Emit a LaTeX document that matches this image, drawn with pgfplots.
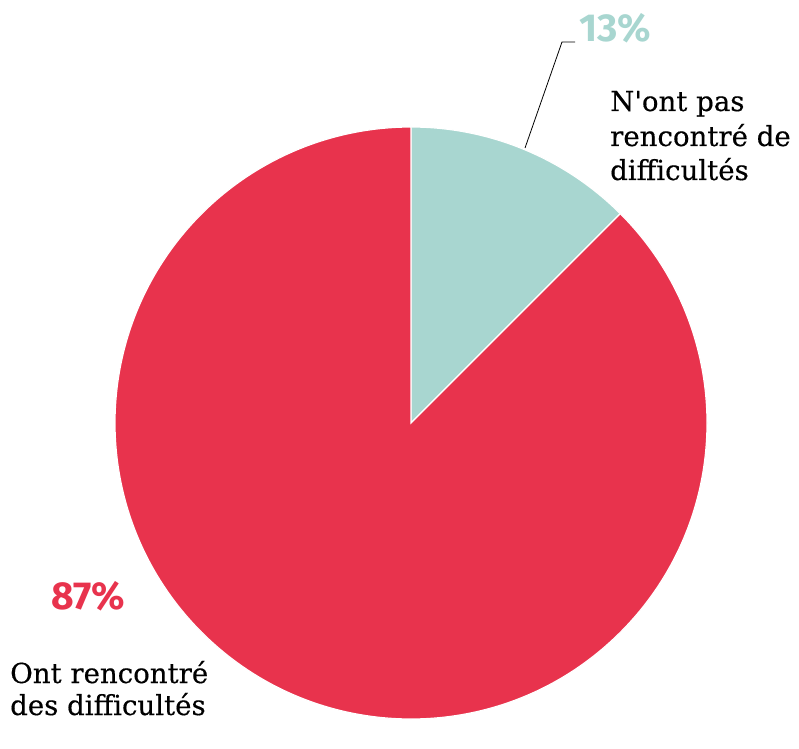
\documentclass[border=0pt]{standalone}
\usepackage{pgfplots}
\pgfplotsset{compat=1.18}
\usepackage{fontspec}
\setmainfont{DejaVu Serif}[FakeBold=0.4]
\newfontfamily\pctfont{Fira Sans}
\newfontfamily\lblfont{DejaVu Serif}[FakeBold=0.4]
\definecolor{pred}{HTML}{E8334D}
\definecolor{pteal}{HTML}{A8D6D0}
\begin{document}
\begin{tikzpicture}
\begin{axis}[
  x=1pt, y=1pt,
  xmin=0, xmax=799, ymin=0, ymax=719,
  hide axis, clip=false,
]
% data: share of respondents (%), as drawn
\def\valA{12.5}% N'ont pas rencontre de difficultes
\def\valB{87.5}% Ont rencontre des difficultes
\pgfmathsetmacro{\angA}{90-\valA*3.6}
\pgfmathsetmacro{\angB}{\angA-\valB*3.6}
\path (axis cs:0,0) rectangle (axis cs:799,719);
\filldraw[fill=pteal, draw=white, line width=1.2pt]
  (axis cs:411,296) -- ++(90:296pt) arc[start angle=90, end angle=\angA, radius=296pt] -- cycle;
\filldraw[fill=pred, draw=white, line width=1.2pt]
  (axis cs:411,296) -- ++(\angA:296pt) arc[start angle=\angA, end angle=\angB, radius=296pt] -- cycle;
\draw[black, line width=0.8pt] (axis cs:525,571) -- (axis cs:562,677) -- (axis cs:575,677);
\node[anchor=base west, inner sep=0, text=pteal, font=\pctfont\bfseries\fontsize{39}{42}\selectfont] at (axis cs:579,677) {13\%};
\node[anchor=base west, inner sep=0, font=\lblfont\fontsize{27.6}{34}\selectfont] at (axis cs:610,608) {N\textquotesingle ont pas};
\node[anchor=base west, inner sep=0, font=\lblfont\fontsize{27.6}{34}\selectfont] at (axis cs:610,573) {rencontré de};
\node[anchor=base west, inner sep=0, font=\lblfont\fontsize{27.6}{34}\selectfont] at (axis cs:610,539) {difficultés};
\node[anchor=base west, inner sep=0, text=pred, font=\pctfont\bfseries\fontsize{39}{42}\selectfont] at (axis cs:51,110) {87\%};
\node[anchor=base west, inner sep=0, font=\lblfont\fontsize{27.6}{34}\selectfont] at (axis cs:10,36) {Ont rencontré};
\node[anchor=base west, inner sep=0, font=\lblfont\fontsize{27.6}{34}\selectfont] at (axis cs:10,4) {des difficultés};
\end{axis}
\end{tikzpicture}
\end{document}
